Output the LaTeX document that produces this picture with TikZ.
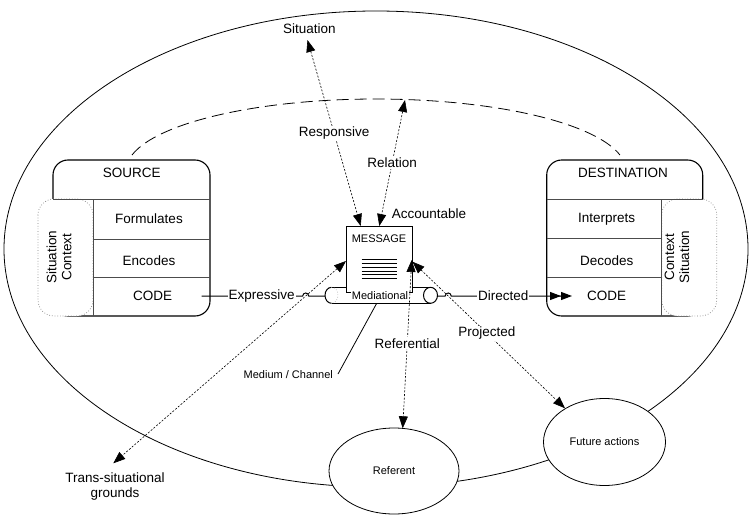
\documentclass[tikz,border=0pt]{standalone}
\usepackage{fontspec}
\setmainfont{Liberation Sans}
\usetikzlibrary{arrows.meta,shapes.geometric}
\begin{document}
\begin{tikzpicture}[x=1pt,y=1pt,
  >={Triangle[length=12pt,width=9pt]},
  lbl/.style={font=\fontsize{13.5}{15}\selectfont, inner sep=1pt},
  sml/.style={font=\fontsize{11}{13}\selectfont, inner sep=1pt},
  boxl/.style={line width=1.1pt, black},
  inl/.style={line width=0.9pt, black!70},
  ctx/.style={draw=black!50, fill=white, dotted, line width=0.7pt, rounded corners=16pt},
  dotarr/.style={<->, line width=0.6pt, dash pattern=on 2pt off 1.6pt},
  conn/.style={line width=1pt},
  thin/.style={line width=0.8pt}
]
\useasboundingbox (0,0) rectangle (752,-516);

% outer situation ellipse
\draw[thin] (376,-249) ellipse [x radius=372, y radius=238];

% dashed relation arc
\draw[thin, dash pattern=on 12pt off 6pt] (132,-155) arc[start angle=167.4, end angle=12.6, x radius=250, y radius=71.6];

% SOURCE box
\draw[boxl, rounded corners=15pt] (53,-160) rectangle (210,-316);
\draw[ctx] (38,-199) rectangle (93,-316);
\draw[inl] (53,-199) -- (210,-199);
\draw[inl] (93,-199) -- (93,-316);
\draw[inl] (93,-239) -- (210,-239);
\draw[inl] (93,-277) -- (210,-277);
\node[lbl] (src) at (131.7,-173.3) {SOURCE};
\node[lbl] (form) at (149,-219) {Formulates};
\node[lbl] (enc) at (149,-261) {Encodes};
\node[lbl] (scode) at (152.7,-296) {CODE};
\node[lbl, rotate=90, align=center] (sctx) at (59,-257) {Situation\\Context};

% DESTINATION box
\draw[boxl, rounded corners=15pt] (546.7,-160) rectangle (702.7,-316);
\draw[ctx] (661.7,-199) rectangle (716.7,-316);
\draw[inl] (546.7,-199) -- (702.7,-199);
\draw[inl] (661.7,-199) -- (661.7,-316);
\draw[inl] (546.7,-238) -- (661.7,-238);
\draw[inl] (546.7,-277) -- (661.7,-277);
\node[lbl] (dst) at (623,-173.3) {DESTINATION};
\node[lbl] (interp) at (606.7,-219) {Interprets};
\node[lbl] (dec) at (606.7,-261) {Decodes};
\node[lbl] (dcode) at (606.7,-296) {CODE};
\node[lbl, rotate=90, align=center] (dctx) at (677,-257) {Context\\Situation};

% cylinder (medium / channel)
\draw[conn] (331.5,-287.3) -- (430.5,-287.3);
\draw[conn] (331.5,-303.3) -- (430.5,-303.3);
\draw[conn] (331.5,-287.3) arc[start angle=90, end angle=270, x radius=6.5, y radius=8];
\draw[black!40, dotted, line width=0.6pt] (331.5,-287.3) arc[start angle=90, end angle=-90, x radius=6.5, y radius=8];
\draw[conn] (430.5,-295.3) ellipse [x radius=7, y radius=8];

% MESSAGE
\node[draw, fill=white, line width=1pt, minimum width=66.5pt, minimum height=66pt, inner sep=0pt] (msg) at (379.3,-259) {};
\node[sml] (msgt) at (379,-238.3) {MESSAGE};
\foreach \i in {0,...,5}{
  \draw[line width=0.8pt] (361.7,{-259.3-3.88*\i}) -- (397.3,{-259.3-3.88*\i});
}
\node[sml, fill=white] (medl) at (380,-296) {Mediational};
\node[lbl] (acc) at (429,-214) {Accountable};

% ellipses
\node[draw, thin, fill=white, ellipse, minimum width=130pt, minimum height=86pt, inner sep=0pt, sml] (ref) at (394,-471) {Referent};
\node[draw, thin, fill=white, ellipse, minimum width=122pt, minimum height=87pt, inner sep=0pt, sml] (fut) at (604.5,-442) {Future actions};

% labels
\node[lbl] (sit) at (309.3,-28.3) {Situation};
\node[lbl, align=center] (trans) at (115,-487) {Trans-situational\\grounds};
\node[sml] (med) at (288.3,-375) {Medium / Channel};

% coordinates
\coordinate (rs1) at (307.5,-40);
\coordinate (rs2) at (360.7,-226);
\coordinate (rl1) at (405,-100);
\coordinate (rl2) at (379.3,-226);
\coordinate (tr1) at (346,-261);
\coordinate (tr2) at (113.3,-463.3);
\coordinate (pj1) at (412.5,-261.7);
\coordinate (pj2) at (565,-408.3);
\coordinate (rf1) at (411.7,-260);
\coordinate (rf2) at (402.7,-428.3);
\coordinate (mc1) at (338,-374);
\coordinate (mc2) at (376.7,-303.3);
\coordinate (ex1) at (201.7,-296);
\coordinate (ex2) at (325,-296);
\coordinate (dr1) at (437.5,-296);
\coordinate (dr2) at (572,-296);

% dotted bidirectional arrows
\draw[dotarr] (rs1) -- node[lbl, fill=white, pos=0.5] {Responsive} (rs2);
\draw[dotarr] (rl1) -- node[lbl, fill=white, pos=0.5] {Relation} (rl2);
\draw[dotarr] (tr1) -- (tr2);
\draw[dotarr] (pj1) -- node[lbl, fill=white, pos=0.488] {Projected} (pj2);
\draw[dotarr] (rf1) -- node[lbl, fill=white, pos=0.495] {Referential} (rf2);

% medium line
\draw[line width=0.8pt] (mc1) -- (mc2);

% expressive and directed connectors with hops
\draw[conn] (ex1) -- (302.7,-296) arc[start angle=180, end angle=0, radius=3] -- (ex2);
\node[lbl, fill=white] (expl) at (261.7,-296) {Expressive};
\draw[conn, -{Triangle[length=11pt,width=8pt]Triangle[length=11pt,width=8pt]}] (dr1) -- (445.2,-296) arc[start angle=180, end angle=0, radius=3] -- (dr2);
\node[lbl, fill=white] (dirl) at (503.3,-296) {Directed};
\end{tikzpicture}
\end{document}
